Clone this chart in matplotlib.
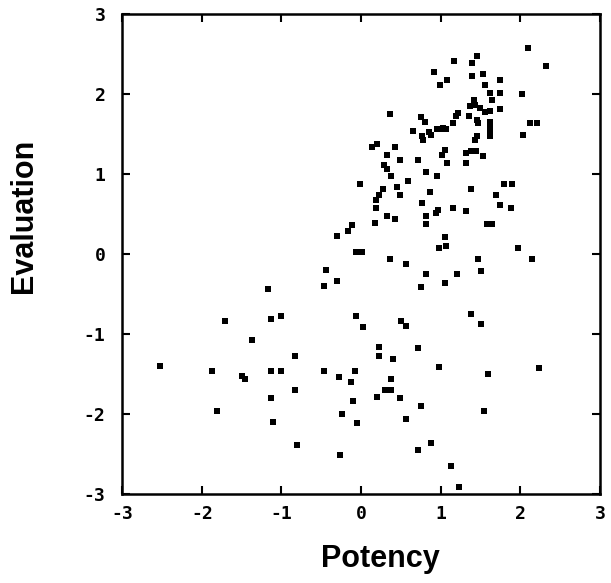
import numpy as np
import matplotlib
matplotlib.use("Agg")
import matplotlib.pyplot as plt

# ── dados (Potency, Evaluation) ──────────────────────────────────────────────
potency = [
    2.09, 2.32, 1.17, 1.39, 1.45, 0.92, 1.39, 1.53, 1.75, 1.08,
    0.99, 1.55, 1.62, 1.75, 1.64, 2.02, 1.42, 1.37, 1.43, 1.49,
    1.56, 1.62, 1.75, 1.19, 1.22, 1.36, 1.45, 1.47, 1.15, 1.03,
    1.62, 1.62, 1.62, 1.62, 2.12, 2.21, 2.03, 1.45, 1.43, 0.36,
    0.75, 0.80, 0.65, 0.76, 0.78, 0.85, 0.88, 0.95, 1.01, 1.07,
    0.14, 0.20, 0.43, 0.32, 0.49, 0.72, 1.01, 1.05, 1.08, 1.32,
    1.38, 1.44, 1.53, 1.32, 0.29, 0.32, 0.38, 0.59, 0.82, 0.95,
    -0.02, 0.45, 0.28, 0.23, 0.19, 0.49, 0.86, 0.76, 0.19, 0.32,
    0.42, 0.82, 0.94, 0.96, 1.15, 1.32, 1.38, 1.69, 1.75, 1.88,
    1.80, 1.89, 0.18, 0.81, 1.58, 1.64, -0.11, -0.17, -0.30, 1.05,
    0.98, 1.07, 1.97, -0.06, 0.01, 0.36, 0.57, 1.47, 2.15, 1.51,
    0.81, 1.21, 0.75, 1.05, -0.44, -0.47, -0.30, -1.17,
    -1.71, -1.13, -1.00, -0.07, 0.03, 0.50, 0.57, 1.38, 1.51, -1.37,
    -0.83, 0.72, 0.23, 0.23, 0.40, 0.98, 1.59, 2.24, -2.53, -1.87,
    -1.49, -1.46, -1.13, -1.01, -0.47, -0.28, -0.13, -0.08, 0.37, 0.30,
    0.38, 0.20, 0.49, -0.83, -1.13, -0.10, -1.81, -0.24, -1.11, -0.05,
    0.56, 0.75, 1.54, -0.80, -0.27, 0.88, 0.71, 1.13, 1.23,
]
evaluation = [
    2.58, 2.35, 2.41, 2.39, 2.48, 2.28, 2.22, 2.25, 2.18, 2.17,
    2.11, 2.11, 2.01, 2.01, 1.93, 2.00, 1.93, 1.85, 1.86, 1.83,
    1.77, 1.79, 1.81, 1.73, 1.76, 1.73, 1.67, 1.64, 1.64, 1.57,
    1.65, 1.58, 1.53, 1.48, 1.64, 1.64, 1.49, 1.48, 1.43, 1.75,
    1.71, 1.65, 1.54, 1.47, 1.43, 1.53, 1.49, 1.56, 1.56, 1.56,
    1.34, 1.37, 1.34, 1.24, 1.18, 1.18, 1.24, 1.30, 1.14, 1.26,
    1.29, 1.29, 1.23, 1.14, 1.11, 1.06, 0.97, 0.91, 1.03, 0.97,
    0.88, 0.84, 0.81, 0.74, 0.68, 0.74, 0.77, 0.64, 0.58, 0.48,
    0.44, 0.48, 0.51, 0.55, 0.57, 0.54, 0.81, 0.74, 0.61, 0.57,
    0.88, 0.88, 0.39, 0.37, 0.37, 0.37, 0.36, 0.29, 0.22, 0.21,
    0.07, 0.10, 0.07, 0.02, 0.02, -0.06, -0.13, -0.07, -0.07, -0.21,
    -0.25, -0.25, -0.41, -0.37, -0.20, -0.40, -0.34, -0.44,
    -0.84, -0.81, -0.78, -0.78, -0.92, -0.84, -0.90, -0.75, -0.88, -1.08,
    -1.28, -1.18, -1.17, -1.28, -1.31, -1.41, -1.50, -1.43, -1.40, -1.46,
    -1.53, -1.56, -1.46, -1.47, -1.47, -1.54, -1.60, -1.47, -1.57, -1.70,
    -1.70, -1.79, -1.80, -1.70, -1.80, -1.84, -1.96, -2.00, -2.10, -2.12,
    -2.06, -1.90, -1.96, -2.39, -2.52, -2.36, -2.45, -2.65, -2.91,
]
ticks = [-3, -2, -1, 0, 1, 2, 3]

# ── figura ───────────────────────────────────────────────────────────────────
fig = plt.figure(figsize=(6.11, 5.83), dpi=100)
ax = fig.add_axes([0.2, 0.153, 0.782, 0.823])

ax.scatter(potency, evaluation, marker="s", s=14, color="black",
           linewidths=0)

ax.set_xlim(-3, 3)
ax.set_ylim(-3, 3)
ax.set_xticks(ticks)
ax.set_yticks(ticks)
ax.set_xticklabels([str(t) for t in ticks], family="DejaVu Sans Mono",
                   fontweight="bold", fontsize=13)
ax.set_yticklabels([str(t) for t in ticks], family="DejaVu Sans Mono",
                   fontweight="bold", fontsize=13)
ax.tick_params(direction="in", length=6, width=1.5, top=True, right=True)
ax.tick_params(axis="x", pad=8)
ax.tick_params(axis="y", pad=12)

for s in ax.spines.values():
    s.set_linewidth(1.8)

fig.text(0.04, 0.63, "Evaluation", family="Liberation Sans",
         fontweight="bold", fontsize=22, rotation=90,
         ha="center", va="center")
fig.text(0.622, 0.041, "Potency", family="Liberation Sans",
         fontweight="bold", fontsize=22, ha="center", va="center")

fig.savefig("out.png", dpi=100)
